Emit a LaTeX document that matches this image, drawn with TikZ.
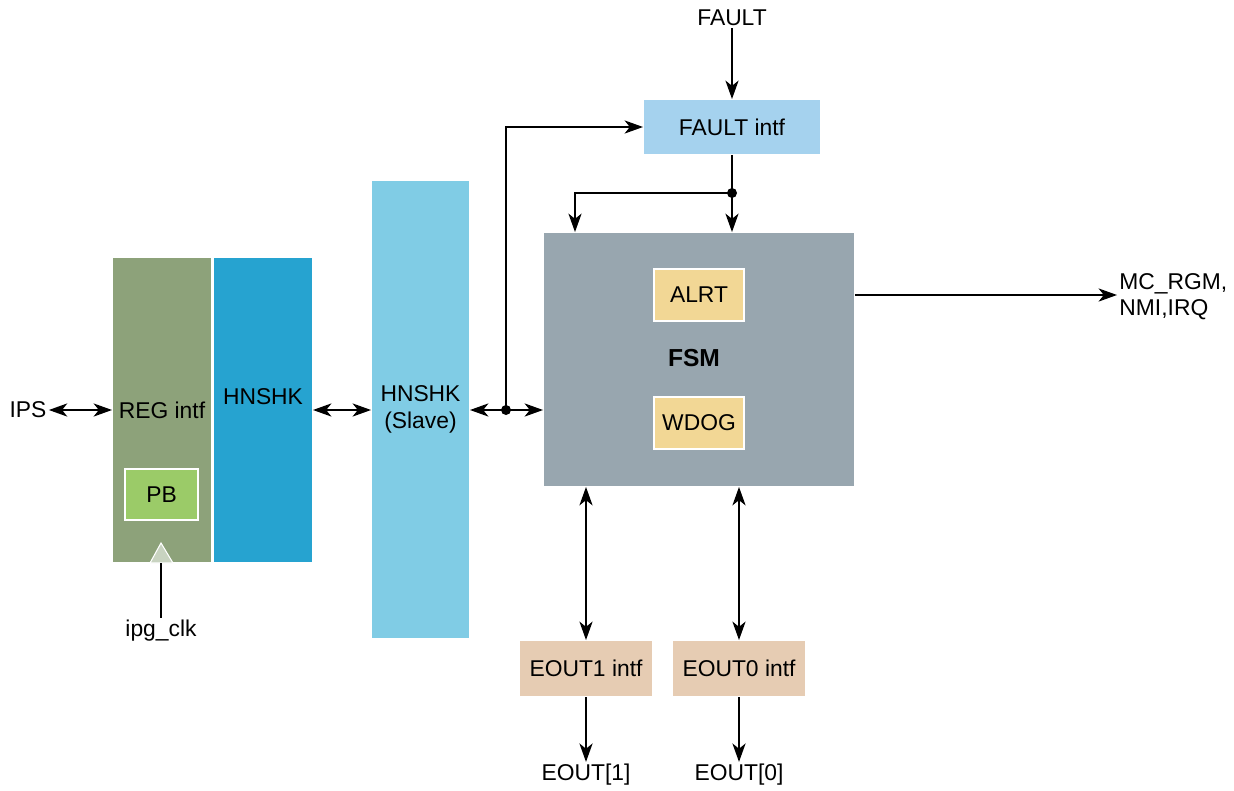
\documentclass[tikz,border=0pt]{standalone}
\usepackage{fontspec}
\setmainfont{Liberation Sans}
\usetikzlibrary{arrows.meta}

\definecolor{regcol}{HTML}{8DA27A}
\definecolor{hnshkcol}{HTML}{26A3D0}
\definecolor{slavecol}{HTML}{80CCE5}
\definecolor{faultcol}{HTML}{A5D2EE}
\definecolor{fsmcol}{HTML}{98A6AF}
\definecolor{alrtcol}{HTML}{F2D795}
\definecolor{pbcol}{HTML}{9BCB68}
\definecolor{eoutcol}{HTML}{E6CCB3}
\definecolor{clkcol}{HTML}{C8D3C0}

\begin{document}
\begin{tikzpicture}[x=0.02cm,y=-0.02cm,line width=.8pt,
    font=\fontsize{13}{15}\selectfont,
    blk/.style={draw=white,line width=.6pt,inner sep=0pt,outer sep=0pt,align=center},
    sig/.style={inner sep=1pt,align=left},
    >={Stealth[length=10.5pt,width=7.5pt,inset=3pt]}]
  \useasboundingbox (0,0) rectangle (1234,791);

  % left blocks
  \node[blk,fill=regcol,minimum width=2cm,minimum height=6.12cm] (reg) at (162,410) {REG intf};
  \node[blk,fill=hnshkcol,minimum width=2cm,minimum height=6.12cm] (hnshk) at (263,410) {};
  \node (hnshktxt) at (263,397) {HNSHK};
  \node[blk,fill=pbcol,line width=1pt,minimum width=1.46cm,minimum height=1.02cm] (pb) at (161.5,494.5) {PB};
  \node[blk,fill=slavecol,minimum width=1.98cm,minimum height=9.18cm] (slave) at (420.5,409.5) {HNSHK\\(Slave)};

  % right blocks
  \node[blk,fill=faultcol,minimum width=3.56cm,minimum height=1.12cm] (faultintf) at (732,127) {FAULT intf};
  \node[blk,fill=fsmcol,minimum width=6.24cm,minimum height=5.1cm] (fsm) at (699,359.5) {};
  \node[font=\fontsize{14}{16}\selectfont\bfseries] (fsmtxt) at (694,358) {FSM};
  \node[blk,fill=alrtcol,minimum width=1.8cm,minimum height=1.04cm] (alrt) at (699,295) {ALRT};
  \node[blk,fill=alrtcol,minimum width=1.8cm,minimum height=1.04cm] (wdog) at (699,423) {WDOG};
  \node[blk,fill=eoutcol,minimum width=2.66cm,minimum height=1.14cm] (eout1) at (586,668.5) {EOUT1 intf};
  \node[blk,fill=eoutcol,minimum width=2.66cm,minimum height=1.14cm] (eout0) at (739,668.5) {EOUT0 intf};

  % signal names
  \node[sig] (ips) at (28,410) {IPS};
  \node[sig] (clk) at (161,631) {ipg\_clk};
  \node[sig] (fault) at (732,18) {FAULT};
  \node[sig,anchor=west] (rgm) at (1117,297) {MC\_RGM,\\NMI,IRQ};
  \node[sig] (eo1) at (586,775) {EOUT[1]};
  \node[sig] (eo0) at (739,775) {EOUT[0]};

  \coordinate (j1) at (506,410);
  \coordinate (j2) at (732,193);
  \coordinate (f2) at (575,193);

  % clock
  \filldraw[fill=clkcol,draw=white,line width=.6pt] (150,563) -- (161,543) -- (173,563) -- cycle;
  \draw (161,563) -- (clk);

  % connectors
  \draw[<->] (ips) -- (reg);
  \draw[<->] (hnshk.east |- 0,410) -- (slave.west |- 0,410);
  \draw[<->] (slave.east |- j1) -- (fsm.west |- j1);
  \draw[->] (j1) |- (faultintf.west);
  \fill (j1) circle (5);
  \draw[->] (fault) -- (faultintf);
  \draw (faultintf) -- (j2);
  \draw[->] (j2) -- (fsm.north -| j2);
  \draw[->] (j2) -- (f2) -- (fsm.north -| f2);
  \fill (j2) circle (5);
  \draw[->] (fsm.east |- alrt) -- (rgm.west |- alrt);
  \draw[<->] (fsm.south -| eout1) -- (eout1);
  \draw[<->] (fsm.south -| eout0) -- (eout0);
  \draw[->] (eout1) -- (eo1);
  \draw[->] (eout0) -- (eo0);
\end{tikzpicture}
\end{document}
